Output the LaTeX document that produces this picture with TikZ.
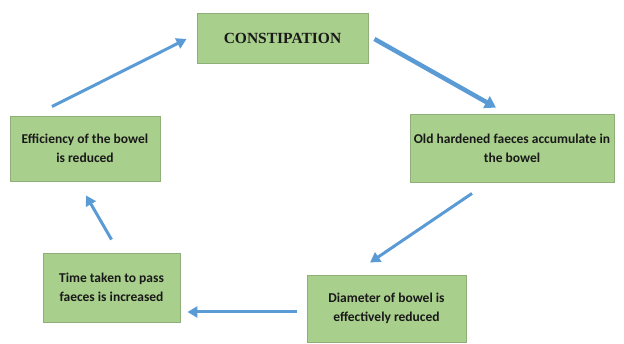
\documentclass[tikz,border=0pt]{standalone}
\usepackage{fontspec}
\setmainfont{Carlito}
\newfontfamily\tnr{Liberation Serif}
\usetikzlibrary{arrows.meta}
\definecolor{boxfill}{HTML}{A9CF8C}
\definecolor{boxline}{HTML}{8FAE78}
\definecolor{arrowblue}{HTML}{5B9BD5}
\tikzset{
  box/.style={draw=boxline, line width=0.9pt, fill=boxfill, align=center, inner sep=0pt,
    font=\fontsize{13.5}{19}\selectfont\bfseries, text=black!90},
  flow/.style={draw=arrowblue, line width=3pt, -{Triangle[length=10pt,width=11pt]}},
  flowthick/.style={draw=arrowblue, line width=4.5pt, -{Triangle[length=11pt,width=13pt]}}
}
\begin{document}
\begin{tikzpicture}[x=1pt,y=-1pt]
\useasboundingbox (0,0) rectangle (624,344);
\node[box, minimum width=171pt, minimum height=50pt, font=\tnr\fontsize{15.5}{18}\selectfont\bfseries] (C) at (282.5,38) {CONSTIPATION};
\node[box, minimum width=150pt, minimum height=65pt] (E) at (85,148.5) {Efficiency of the bowel\\is reduced};
\node[box, minimum width=204pt, minimum height=68pt] (O) at (512,148) {Old hardened faeces accumulate in\\the bowel};
\node[box, minimum width=137pt, minimum height=69pt] (T) at (111.5,287.5) {Time taken to pass\\faeces is increased};
\node[box, minimum width=159pt, minimum height=67pt] (D) at (386.5,308.5) {Diameter of bowel is\\effectively reduced};
\draw[flow] ([shift={(-33,-9)}]E.north) -- ([shift={(-10,1)}]C.west);
\draw[flowthick] ([shift={(6,1)}]C.east) -- ([shift={(-16,-6)}]O.north);
\draw[flow] ([shift={(-40,11)}]O.south) -- ([shift={(-16.5,-12)}]D.north);
\draw[flow] ([shift={(-10,3.5)}]D.west) -- ([shift={(7,24.5)}]T.east);
\draw[flow] ([shift={(0,-13)}]T.north) -- ([shift={(1,14)}]E.south);
\end{tikzpicture}
\end{document}
